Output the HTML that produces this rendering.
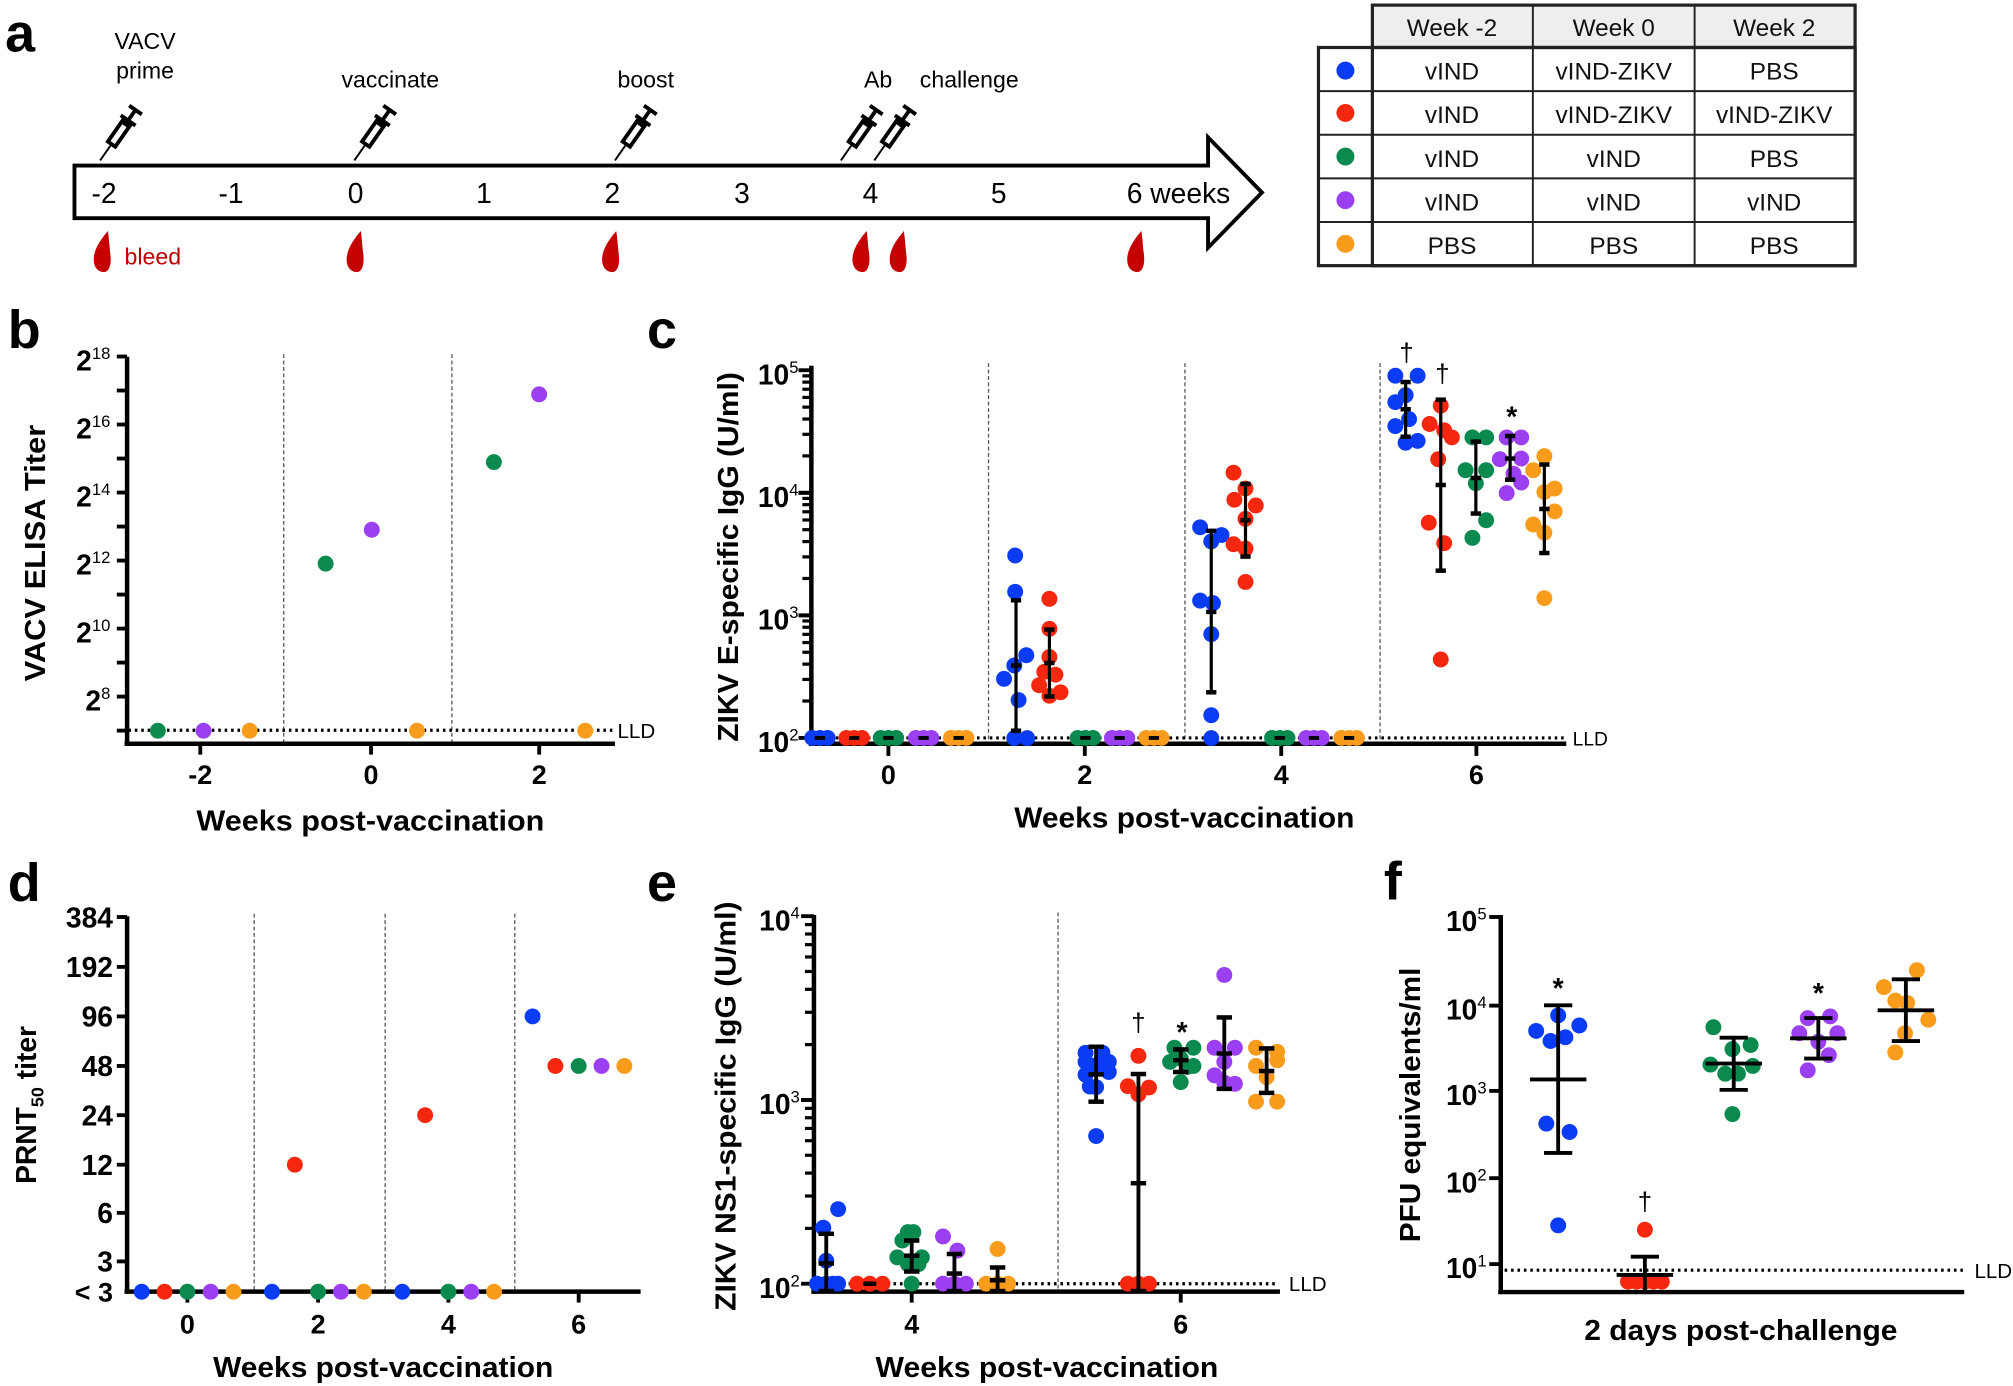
<!DOCTYPE html>
<html><head><meta charset="utf-8"><style>
html,body{margin:0;padding:0;background:#fff}
svg{display:block}
text{font-family:"Liberation Sans",Arial,sans-serif}
</style></head><body>
<svg id="s" xmlns="http://www.w3.org/2000/svg" width="2013" height="1386" viewBox="0 0 1568 1080" preserveAspectRatio="none">
<rect width="1568" height="1080" fill="#fff"/>
<text x="4" y="40" font-size="42" font-weight="bold">a</text>
<polygon points="58,129 941,129 941,107 983,150 941,193 941,170 58,170" fill="#fff" stroke="#000" stroke-width="3"/>
<g font-size="22" text-anchor="middle">
<text x="81" y="158">-2</text><text x="180" y="158">-1</text><text x="277" y="158">0</text><text x="377" y="158">1</text><text x="477" y="158">2</text><text x="578" y="158">3</text><text x="678" y="158">4</text><text x="778" y="158">5</text><text x="918" y="158">6 weeks</text>
</g>
<g font-size="18" text-anchor="middle">
<text x="113" y="38">VACV</text><text x="113" y="61">prime</text>
<text x="304" y="68">vaccinate</text><text x="503" y="68">boost</text>
<text x="684" y="68">Ab</text><text x="755" y="68">challenge</text>
</g>
<g id="syr"></g>
<g id="drops"></g>
<text x="97" y="206" font-size="18" fill="#b00">bleed</text>
<rect x="1069" y="4" width="376" height="33" fill="#eee"/>
<g stroke="#222" stroke-width="1.5" fill="none">
<rect x="1069" y="4" width="376" height="203" stroke-width="2.5"/>
<rect x="1027" y="37" width="418" height="170" stroke-width="2.5"/>
<line x1="1194" y1="4" x2="1194" y2="207"/><line x1="1320" y1="4" x2="1320" y2="207"/>
<line x1="1027" y1="71" x2="1445" y2="71"/><line x1="1027" y1="105" x2="1445" y2="105"/><line x1="1027" y1="139" x2="1445" y2="139"/><line x1="1027" y1="173" x2="1445" y2="173"/>
<line x1="1069" y1="37" x2="1445" y2="37" stroke-width="2.5"/>
</g>
<g font-size="19" text-anchor="middle" fill="#111">
<text x="1131" y="28">Week -2</text><text x="1257" y="28">Week 0</text><text x="1382" y="28">Week 2</text>
<text x="1131" y="62">vIND</text><text x="1257" y="62">vIND-ZIKV</text><text x="1382" y="62">PBS</text>
<text x="1131" y="96">vIND</text><text x="1257" y="96">vIND-ZIKV</text><text x="1382" y="96">vIND-ZIKV</text>
<text x="1131" y="130">vIND</text><text x="1257" y="130">vIND</text><text x="1382" y="130">PBS</text>
<text x="1131" y="164">vIND</text><text x="1257" y="164">vIND</text><text x="1382" y="164">vIND</text>
<text x="1131" y="198">PBS</text><text x="1257" y="198">PBS</text><text x="1382" y="198">PBS</text>
</g>
<circle cx="1048" cy="55" r="7" fill="#0a3cf5"/><circle cx="1048" cy="88" r="7" fill="#f5280f"/><circle cx="1048" cy="122" r="7" fill="#0a8a4f"/><circle cx="1048" cy="156" r="7" fill="#9b3ff2"/><circle cx="1048" cy="190" r="7" fill="#f99c1c"/>
<g font-size="42" font-weight="bold">
<text x="6" y="271">b</text><text x="504" y="271">c</text>
<text x="6" y="702">d</text><text x="504" y="702">e</text><text x="1078" y="701">f</text>
</g>
<g id="plots"></g>
</svg>
<script>
var NS="http://www.w3.org/2000/svg",P=document.getElementById('plots');
function el(t,a,par,txt){var e=document.createElementNS(NS,t);for(var k in a)e.setAttribute(k,a[k]);if(txt!==undefined)e.textContent=txt;(par||P).appendChild(e);return e;}
function line(x1,y1,x2,y2,w,extra){var a={x1:x1,y1:y1,x2:x2,y2:y2,stroke:'#000','stroke-width':w||2};for(var k in extra)a[k]=extra[k];return el('line',a);}
var B='#0a3cf5',R='#f5280f',G='#0a8a4f',Pu='#9b3ff2',O='#f99c1c';
function dot(x,y,c,r){el('circle',{cx:x,cy:y,r:r||6.2,fill:c});}
function ylab(x,yc,len,txt,fs){var t=el('text',{x:0,y:0,'font-size':fs||22,'font-weight':'bold','text-anchor':'middle',transform:'translate('+x+','+yc+') rotate(-90)',textLength:len,lengthAdjust:'spacingAndGlyphs'});return t;}
function supLabel(xr,y,base,exp,fs){var t=el('text',{x:xr,y:y,'font-size':fs||22,'font-weight':'bold','text-anchor':'end'});el('tspan',{},t,base);el('tspan',{dy:-9,'font-size':13,'font-weight':'normal'},t,exp);return t;}
function xlab(x1,x2,y,txt){el('text',{x:(x1+x2)/2,y:y,'font-size':22,'font-weight':'bold','text-anchor':'middle',textLength:x2-x1,lengthAdjust:'spacingAndGlyphs'},null,txt);}
function dashV(x,y1,y2){line(x,y1,x,y2,1,{stroke:'#555','stroke-dasharray':'3 2'});}
function lld(x1,x2,y){line(x1,y,x2,y,2.5,{'stroke-dasharray':'2 3'});}

var S=document.getElementById('syr');
[[78,125],[276,125],[479,125],[655,125],[681,125]].forEach(function(p){
 var g=el('g',{transform:'translate('+p[0]+','+p[1]+') rotate(-55)'},S);
 el('line',{x1:0,y1:0,x2:14,y2:0,stroke:'#000','stroke-width':1.5},g);
 el('rect',{x:14,y:-5,width:24,height:10,fill:'#000'},g);
 el('rect',{x:17,y:-2,width:16,height:4,fill:'#fff'},g);
 el('line',{x1:38,y1:-7,x2:38,y2:7,stroke:'#000','stroke-width':3},g);
 el('line',{x1:38,y1:0,x2:48,y2:0,stroke:'#000','stroke-width':3},g);
 el('line',{x1:48,y1:-6,x2:48,y2:6,stroke:'#000','stroke-width':3},g);
});
var D=document.getElementById('drops');
[81,278,477,672,701,886].forEach(function(x){
 el('path',{d:'M3,-16 C-2,-10 -8,-2 -8,6 C-8,13 -4,16 0,16 C4,16 6,10 5,2 C4,-6 4,-10 3,-16 Z',fill:'#c40000',transform:'translate('+x+',196)'},D);
});

(function(){
 var bx=function(z){return 0.3523*z},by=function(z){return 233.7+0.2747*z};
 var yOf=function(n){return 569.3-(n-7)*26.5};
 dashV(221,276,580);dashV(352,276,580);
 lld(100,478,569);
 el('text',{x:481,y:575,'font-size':16},null,'LLD');
 line(99,278,99,581,3.5);line(97,579.5,479,579.5,3.5);
 for(var n=7;n<=18;n++){line(91,yOf(n),99,yOf(n),3);}
 for(var n=8;n<=18;n+=2)supLabel(86,yOf(n)+11,'2',''+n);
 [[-2,156],[0,289],[2,420]].forEach(function(t){line(t[1],580,t[1],588,3);el('text',{x:t[1],y:611,'font-size':21,'font-weight':'bold','text-anchor':'middle'},null,''+t[0]);});
 [[349,1222,G],[450,1222,Pu],[552,1222,O],[720,748,G],[822,652,Pu],[922,1222,O],[1092,460,G],[1192,268,Pu],[1294,1222,O]].forEach(function(p){dot(bx(p[0]),by(p[1]),p[2]);});
 ylab(35,431,200).textContent='VACV ELISA Titer';
 xlab(153,424,647,'Weeks post-vaccination');
})();

(function(){
 var cx=function(z){return 630+0.667*(z-155)},cy=function(z){return 233.7+0.2747*z};
 var dec=95.5,y2=575;
 dashV(770,283,580);dashV(923,283,580);dashV(1075,283,580);
 lld(636,1218,575);
 el('text',{x:1225,y:581,'font-size':15},null,'LLD');
 for(var d=0;d<3;d++)for(var m=1;m<=10;m++){var yy=y2-dec*d-dec*Math.log10(m);line(m==1||m==10?622:625,yy,632,yy,m==1||m==10?3:2.5);}
 [[2,575],[3,479.5],[4,384],[5,288.5]].forEach(function(t){supLabel(622,t[1]+11,'10',''+t[0]);});
 line(632,285,632,581,3.5);line(630,579.5,1220,579.5,3.5);
 [[0,692],[2,845],[4,998],[6,1150]].forEach(function(t){line(t[1],580,t[1],589,3);el('text',{x:t[1],y:611,'font-size':21,'font-weight':'bold','text-anchor':'middle'},null,''+t[0]);});
 function cluster(z,c){var x=cx(z);[-6,6,0].forEach(function(o){dot(x+o,575,c);});line(x-4,575,x+4,575,3);}
 cluster(168,B);cluster(208,R);cluster(248,G);cluster(289,Pu);cluster(330,O);
 cluster(478,G);cluster(518,Pu);cluster(558,O);cluster(705,G);cluster(745,Pu);cluster(786,O);
 function grp(c,pts,bx,t,b,m){pts.forEach(function(p){dot(cx(p[0]),cy(p[1]),c);});var x=cx(bx);line(x,cy(t),x,cy(b),2.5);[t,b,m].forEach(function(v){line(x-4,cy(v),x+4,cy(v),3.5);});}
 grp(B,[[396,725],[396,828],[383,1075],[395,1037],[409,1008],[400,1135],[395,1243],[410,1243]],397,852,1222,1037);
 grp(R,[[436,848],[436,933],[436,1013],[430,1055],[443,1063],[424,1093],[449,1113],[436,1123]],436,935,1125,1030);
 grp(B,[[612,645],[625,685],[637,667],[612,853],[627,860],[625,948],[625,1178],[625,1243]],625,655,1113,885);
 grp(R,[[651,490],[665,535],[652,567],[677,583],[665,621],[651,693],[665,705],[665,800]],665,522,728,625);
 grp(B,[[840,215],[866,215],[852,270],[840,290],[856,338],[840,358],[852,405],[866,400]],852,233,388,310);
 grp(R,[[893,300],[880,352],[897,370],[906,390],[890,452],[879,632],[897,690],[893,1020]],893,283,768,525);
 grp(G,[[930,390],[946,390],[922,483],[946,483],[934,520],[946,625],[930,675]],934,402,606,505);
 grp(Pu,[[970,390],[987,390],[962,452],[987,450],[978,493],[987,518],[970,548]],974,386,510,450);
 grp(O,[[1014,443],[1001,483],[1014,545],[1026,535],[1026,600],[1001,637],[1014,660],[1014,846]],1014,467,718,593);
 el('text',{x:cx(853),y:cy(145)+8,'font-size':20,'text-anchor':'middle'},null,'†');
 el('text',{x:cx(895),y:cy(205)+8,'font-size':20,'text-anchor':'middle'},null,'†');
 el('text',{x:cx(976),y:cy(315)+12,'font-size':22,'font-weight':'bold','text-anchor':'middle'},null,'*');
 ylab(575,434,288).textContent='ZIKV E-specific IgG (U/ml)';
 xlab(790,1055,645,'Weeks post-vaccination');
})();

(function(){
 var dx=function(z){return 0.3295*z},dy=function(z){return 669.9+0.2626*z};
 dashV(198,712,1006);dashV(300,712,1006);dashV(401,712,1006);
 line(99,714,99,1008,3.5);line(97,1006.5,499,1006.5,3.5);
 [['384',170],['192',318],['96',465],['48',612],['24',758],['12',905],['6',1048],['3',1192]].forEach(function(t){var y=dy(t[1]);line(91,y,99,y,3);el('text',{x:88,y:y+8,'font-size':22,'font-weight':'bold','text-anchor':'end'},null,t[0]);});
 el('text',{x:88,y:1014,'font-size':21,'font-weight':'bold','text-anchor':'end'},null,'< 3');
 [[0,443],[2,752],[4,1060],[6,1368]].forEach(function(t){var x=dx(t[1]);line(x,1006,x,1015,3);el('text',{x:x,y:1039,'font-size':21,'font-weight':'bold','text-anchor':'middle'},null,''+t[0]);});
 var yb=dy(1282);
 [[335,B],[389,R],[443,G],[498,Pu],[552,O],[643,B],[752,G],[806,Pu],[860,O],[951,B],[1060,G],[1114,Pu],[1168,O]].forEach(function(p){dot(dx(p[0]),yb,p[1]);});
 dot(dx(697),dy(905),R);dot(dx(1005),dy(758),R);dot(dx(1259),dy(465),B);
 [[1313,R],[1368,G],[1422,Pu],[1476,O]].forEach(function(p){dot(dx(p[0]),dy(612),p[1]);});
 var t=el('text',{x:0,y:0,'font-size':22,'font-weight':'bold','text-anchor':'middle',transform:'translate(28,861) rotate(-90)'});
 el('tspan',{},t,'PRNT');el('tspan',{dy:6,'font-size':14},t,'50');el('tspan',{dy:-6},t,' titer');
 xlab(166,431,1073,'Weeks post-vaccination');
})();

(function(){
 var ex=function(z){return 537.5+0.3295*z},ey=function(z){return 669.9+0.2626*z};
 var dec=143.2,y2=1000.3;
 dashV(ex(870),711,1006);
 lld(636,995,y2);
 el('text',{x:1004,y:1006,'font-size':16},null,'LLD');
 for(var d=0;d<2;d++)for(var m=1;m<=10;m++){var yy=y2-dec*d-dec*Math.log10(m);line(m==1||m==10?624:627,yy,634,yy,m==1||m==10?3:2.5);}
 [[2,y2],[3,y2-dec],[4,y2-2*dec]].forEach(function(t){supLabel(623,t[1]+11,'10',''+t[0]);});
 line(634,713,634,1008,3.5);line(632,1006.5,997,1006.5,3.5);
 [[4,524],[6,1160]].forEach(function(t){var x=ex(t[1]);line(x,1006,x,1015,3);el('text',{x:x,y:1039,'font-size':21,'font-weight':'bold','text-anchor':'middle'},null,''+t[0]);});
 function grp(c,pts,bx,t,b,m){pts.forEach(function(p){dot(ex(p[0]),ey(p[1]),c);});var x=ex(bx);line(x,ey(t),x,ey(b),3);[t,b,m].forEach(function(v){line(x-6,ey(v),x+6,ey(v),3.5);});}
 grp(B,[[315,1092],[350,1037],[322,1190],[300,1258],[322,1258],[350,1258],[338,1258]],322,1110,1280,1198);
 [395,425,455].forEach(function(z){dot(ex(z),y2,R);});line(ex(425)-5,y2,ex(425)+5,y2,3.5);
 grp(G,[[515,1105],[528,1105],[502,1130],[490,1180],[548,1180],[515,1200],[540,1200],[524,1258]],524,1130,1222,1175);
 grp(Pu,[[598,1118],[632,1160],[598,1258],[625,1258],[652,1258]],625,1170,1280,1228);
 grp(O,[[727,1155],[700,1258],[727,1258],[752,1258]],727,1210,1280,1248);
 grp(B,[[935,573],[975,573],[935,600],[990,600],[960,610],[935,638],[990,630],[960,675],[960,820],[945,673]],960,555,718,637);
 grp(R,[[1060,582],[1035,672],[1085,676],[1060,696],[1035,1258],[1060,1258],[1085,1258]],1060,636,1280,960);
 grp(G,[[1145,558],[1190,558],[1135,600],[1190,612],[1160,590],[1160,660],[1175,615]],1160,563,630,595);
 grp(Pu,[[1263,342],[1240,558],[1288,558],[1263,600],[1240,640],[1288,665],[1263,662]],1263,468,680,575);
 grp(O,[[1338,558],[1388,570],[1338,612],[1388,595],[1363,645],[1338,718],[1388,718]],1363,560,692,627);
 el('text',{x:ex(1060),y:ey(480)+8,'font-size':20,'text-anchor':'middle'},null,'†');
 el('text',{x:ex(1163),y:ey(495)+12,'font-size':22,'font-weight':'bold','text-anchor':'middle'},null,'*');
 ylab(573,862,319).textContent='ZIKV NS1-specific IgG (U/ml)';
 xlab(682,949,1073,'Weeks post-vaccination');
})();

(function(){
 var fx=function(z){return 1053.9+0.3295*z},fy=function(z){return 669.9+0.2626*z};
 lld(1172,1530,fy(1218));
 el('text',{x:1538,y:fy(1218)+6,'font-size':16},null,'LLD');
 [[5,170],[4,433],[3,686],[2,945],[1,1200]].forEach(function(t){var y=fy(t[1]);line(1160,y,1169,y,3);supLabel(1158,y+11,'10',''+t[0]);});
 line(1169,713,1169,1008,3.5);line(1167,1006.8,1530,1006.8,3.5);
 function grp(c,pts,bx,t,b,m,mw){pts.forEach(function(p){dot(fx(p[0]),fy(p[1]),c);});var x=fx(bx);line(x,fy(t),x,fy(b),3);[t,b].forEach(function(v){line(x-11,fy(v),x+11,fy(v),3);});line(x-(mw||22),fy(m),x+(mw||22),fy(m),3);}
 grp(B,[[485,462],[433,508],[535,492],[502,527],[467,538],[457,783],[512,808],[485,1085]],485,432,870,652);
 [[650,1252],[670,1252],[690,1252],[710,1252],[730,1252],[690,1098]].forEach(function(p){dot(fx(p[0]),fy(p[1]),R);});
 var xr=fx(690);line(xr,fy(1178),xr,fy(1280),3);line(xr-11,fy(1178),xr+11,fy(1178),3);line(xr-22,fy(1232),xr+22,fy(1232),3);
 grp(G,[[852,497],[897,562],[940,550],[845,608],[945,612],[880,635],[910,635],[897,755]],900,528,683,605);
 grp(Pu,[[1075,470],[1128,465],[1055,515],[1145,515],[1100,540],[1125,580],[1075,625]],1100,470,590,530);
 grp(O,[[1333,328],[1255,378],[1282,418],[1310,425],[1360,475],[1305,515],[1282,572]],1307,355,538,447);
 el('text',{x:fx(485),y:fy(365)+12,'font-size':22,'font-weight':'bold','text-anchor':'middle'},null,'*');
 el('text',{x:fx(1100),y:fy(380)+12,'font-size':22,'font-weight':'bold','text-anchor':'middle'},null,'*');
 el('text',{x:fx(690),y:fy(1010)+8,'font-size':20,'text-anchor':'middle'},null,'†');
 ylab(1106,861,214).textContent='PFU equivalents/ml';
 xlab(1234,1478,1044,'2 days post-challenge');
})();
</script>
</body></html>
